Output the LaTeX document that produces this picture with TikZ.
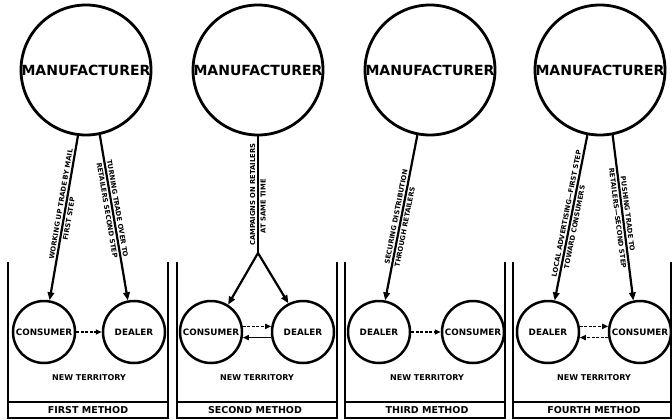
\documentclass[tikz,border=0pt]{standalone}
\usepackage{fontspec}
\setmainfont{DejaVu Sans}
\usetikzlibrary{arrows.meta}
\begin{document}
\begin{tikzpicture}[x=1pt,y=-1pt,
  bigc/.style={draw,circle,line width=2.8pt,minimum size=130pt,inner sep=0pt,font=\bfseries\fontsize{14}{14}\selectfont},
  smallc/.style={draw,circle,line width=2.5pt,minimum size=62pt,inner sep=0pt,font=\bfseries\fontsize{8.8}{8.8}\selectfont},
  ln/.style={line width=2.2pt},
  arr/.style={line width=2.2pt,-{Triangle[length=8pt,width=6.5pt]}},
  harr/.style={line width=1.6pt,dash pattern=on 3pt off 1.5pt,-{Triangle[length=6pt,width=5pt]}},
  sarr/.style={line width=1.6pt,-{Triangle[length=6pt,width=5pt]}},
  frame/.style={line width=2.2pt},
  lbl/.style={font=\bfseries\fontsize{6.8}{6.8}\selectfont,inner sep=1.6pt},
  terr/.style={font=\bfseries\fontsize{8}{8}\selectfont},
  meth/.style={font=\bfseries\fontsize{9.5}{9.5}\selectfont}]
\useasboundingbox (0,0) rectangle (672,420);
\fill[white] (0,0) rectangle (672,420);

% frames
\draw[frame] (8,262) -- (8,418) -- (168,418) -- (168,262);
\draw[frame] (8,402) -- (168,402);
\draw[frame] (177,262) -- (177,418) -- (337,418) -- (337,262);
\draw[frame] (177,402) -- (337,402);
\draw[frame] (345,262) -- (345,418) -- (505,418) -- (505,262);
\draw[frame] (345,402) -- (505,402);
\draw[frame] (513,262) -- (513,418) -- (671,418) -- (671,262);
\draw[frame] (513,402) -- (671,402);

% manufacturers
\node[bigc] (m1) at (86,70) {\makebox[0pt]{MANUFACTURER}};
\node[bigc] (m2) at (258,70) {\makebox[0pt]{MANUFACTURER}};
\node[bigc] (m3) at (430,70) {\makebox[0pt]{MANUFACTURER}};
\node[bigc] (m4) at (600,70) {\makebox[0pt]{MANUFACTURER}};

% small circles
\node[smallc] (c1) at (44,332) {\makebox[0pt]{CONSUMER}};
\node[smallc] (d1) at (134,332) {\makebox[0pt]{DEALER}};
\node[smallc] (c2) at (211,332) {\makebox[0pt]{CONSUMER}};
\node[smallc] (d2) at (303,332) {\makebox[0pt]{DEALER}};
\node[smallc] (d3) at (379,332) {\makebox[0pt]{DEALER}};
\node[smallc] (c3) at (473,332) {\makebox[0pt]{CONSUMER}};
\node[smallc] (d4) at (548,332) {\makebox[0pt]{DEALER}};
\node[smallc] (c4) at (640,332) {\makebox[0pt]{CONSUMER}};

% territory and method labels
\node[terr] (n1) at (89,378) {NEW TERRITORY};
\node[terr] (n2) at (257,378) {NEW TERRITORY};
\node[terr] (n3) at (427,378) {NEW TERRITORY};
\node[terr] (n4) at (594,378) {NEW TERRITORY};
\node[meth] (t1) at (88,410) {FIRST METHOD};
\node[meth] (t2) at (255,410) {SECOND METHOD};
\node[meth] (t3) at (427,410) {THIRD METHOD};
\node[meth] (t4) at (594,410) {FOURTH METHOD};

% first method
\draw[arr] (m1.263) -- node[lbl,sloped,above,pos=.42] (l1a) {WORKING UP TRADE BY MAIL}
  node[lbl,sloped,below,pos=.5] (l1b) {FIRST STEP} (c1.80);
\draw[arr] (m1.282) -- node[lbl,sloped,above,pos=.45] (l1c) {TURNING TRADE OVER TO}
  node[lbl,sloped,below,pos=.45] (l1d) {RETAILERS SECOND STEP} (d1.101);
\draw[harr] (c1.east) -- (d1.west);

% second method
\coordinate (s2) at (258,253);
\draw[ln] (m2.south) -- node[lbl,rotate=90,above,pos=.5] (l2a) {CAMPAIGNS ON RETAILERS}
  node[lbl,rotate=90,below,pos=.6] (l2b) {AT SAME TIME} (s2);
\draw[arr] (s2) -- (c2.58);
\draw[arr] (s2) -- (d2.117);
\draw[harr] (c2.10) -- (d2.170);
\draw[sarr] (d2.190) -- (c2.350);

% third method
\draw[arr] (m3.259) -- node[lbl,sloped,above,pos=.5] (l3a) {SECURING DISTRIBUTION}
  node[lbl,sloped,below,pos=.55] (l3b) {THROUGH RETAILERS} (d3.79);
\draw[harr] (d3.east) -- (c3.west);

% fourth method
\draw[arr] (m4.259) -- node[lbl,sloped,above,pos=.48] (l4a) {LOCAL ADVERTISING---FIRST STEP}
  node[lbl,sloped,below,pos=.55] (l4b) {TOWARD CONSUMERS} (d4.78);
\draw[arr] (m4.281) -- node[lbl,sloped,above,pos=.48] (l4c) {PUSHING TRADE TO}
  node[lbl,sloped,below,pos=.5] (l4d) {RETAILERS---SECOND STEP} (c4.102);
\draw[harr] (d4.10) -- (c4.170);
\draw[harr] (c4.190) -- (d4.350);
\end{tikzpicture}
\end{document}
